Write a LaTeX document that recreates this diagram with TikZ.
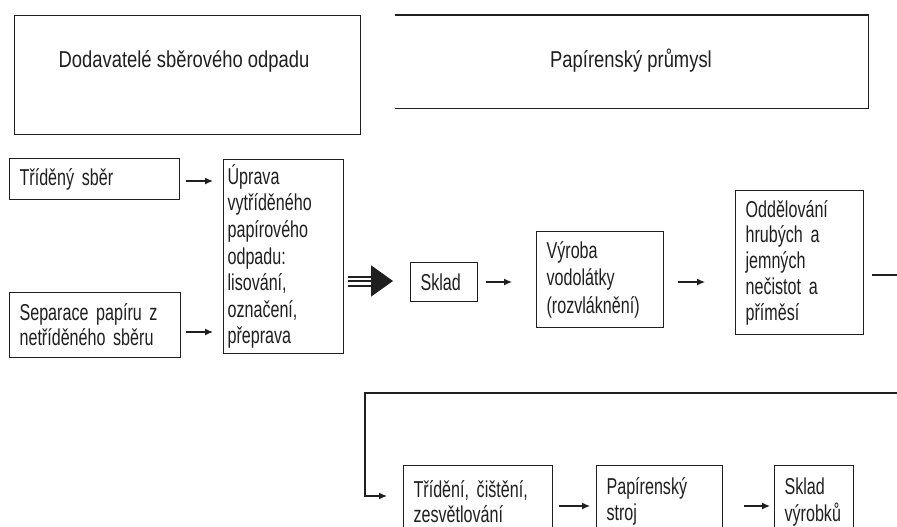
\documentclass[tikz,border=0pt]{standalone}
\usepackage{fontspec}
\setmainfont{Liberation Sans}[FakeStretch=0.70]
\newfontfamily\titlefont{Liberation Sans}[FakeStretch=0.80]
\usetikzlibrary{arrows.meta}
\definecolor{ink}{gray}{0.12}
\newcommand\bodyfnt[1]{\fontsize{23}{#1}\selectfont\setlength\spaceskip{4.6pt plus 1pt}}
\newcommand\titlefnt{\titlefont\fontsize{23}{25}\selectfont\setlength\spaceskip{5.2pt plus 1pt}}
\begin{document}
\begin{tikzpicture}[x=1pt,y=-1pt,
  box/.style={draw=ink, line width=1.2pt, anchor=north west, align=left,
    inner xsep=10pt, inner ysep=0pt, text=ink,
    font=\bodyfnt{25.5}},
  titletext/.style={anchor=base, text=ink, inner sep=0pt, font=\titlefnt},
  conn/.style={draw=ink, line width=1.3pt, -{Latex[length=8pt,width=7pt]}},
  frame/.style={draw=ink, line width=1.2pt},
]
\useasboundingbox (0,0) rectangle (897,527);
\fill[white] (0,0) rectangle (897,527);

% headers
\node[box, minimum width=346pt, minimum height=119pt] (sup) at (14,15) {};
\node[titletext] (suptext) at (184,68) {Dodavatelé sběrového odpadu};
\node[anchor=north west, minimum width=473pt, minimum height=93pt, inner sep=0pt] (ind) at (395,15) {};
\draw[frame] (ind.north west) -- (ind.north east) -- (ind.south east) -- (ind.south west);
\node[titletext] (indtext) at (631,68) {Papírenský průmysl};

% first row
\node[box, minimum width=170pt, minimum height=41pt, text width=150pt] (trid) at (9,158) {Tříděný sběr};
\node[box, minimum width=171pt, minimum height=65pt, text width=151pt,
  font=\bodyfnt{25}] (sep) at (9,292) {Separace papíru z\\netříděného sběru};
\node[box, minimum width=120pt, minimum height=194pt, text width=112pt, inner xsep=4pt,
  font=\bodyfnt{26.6}] (upr) at (223,159)
  {Úprava\\vytříděného\\papírového\\odpadu:\\lisování,\\označení,\\přeprava};
\node[box, minimum width=67pt, minimum height=39pt, text width=47pt] (skl) at (410,262) {Sklad};
\node[box, minimum width=127pt, minimum height=96pt, text width=107pt,
  font=\bodyfnt{27.5}] (vyr) at (536,231) {Výroba\\vodolátky\\(rozvláknění)};
\node[box, minimum width=128pt, minimum height=144pt, text width=108pt,
  font=\bodyfnt{25.7}] (odd) at (735,190)
  {Oddělování\\hrubých a\\jemných\\nečistot a\\příměsí};

% second row
\node[box, minimum width=149pt, minimum height=72pt, text width=129pt,
  font=\bodyfnt{25}] (tri) at (403,465) {Třídění, čištění,\\zesvětlování};
\node[box, minimum width=126pt, minimum height=72pt, text width=106pt,
  font=\bodyfnt{26}] (pap) at (596,465) {Papírenský\\stroj};
\node[box, minimum width=79pt, minimum height=72pt, text width=59pt,
  font=\bodyfnt{27}] (skv) at (774,465) {Sklad\\výrobků};

% connectors
\draw[conn, shorten <=6pt, shorten >=10pt] (trid.east |- 0,181) -- (upr.west |- 0,181);
\draw[conn, shorten <=5pt, shorten >=10pt] (sep.east |- 0,332) -- (upr.west |- 0,332);

\coordinate (bigs) at (348,281);
\draw[ink, line width=2pt, -{Triangle[length=22pt,width=31pt]}, shorten >=17pt]
  (bigs) -- (bigs -| skl.west);
\draw[ink, line width=2pt] ([yshift=4.5pt]bigs) -- ++(26,0);
\draw[ink, line width=2pt] ([yshift=-4.5pt]bigs) -- ++(26,0);

\draw[conn, shorten <=8pt, shorten >=24pt] (skl.east |- 0,282) -- (vyr.west |- 0,282);
\draw[conn, shorten <=14pt, shorten >=30pt] (vyr.east |- 0,282) -- (odd.west |- 0,282);

\draw[conn, shorten <=8pt, shorten >=16pt] (odd.east |- 0,275) -- (903,275) -- (903,393)
  -- (365,393) |- (tri.west |- 0,496);

\draw[conn, shorten <=6pt, shorten >=6pt] (tri.east |- 0,506) -- (pap.west |- 0,506);
\draw[conn, shorten <=21pt, shorten >=4pt] (pap.east |- 0,506) -- (skv.west |- 0,506);
\end{tikzpicture}
\end{document}
